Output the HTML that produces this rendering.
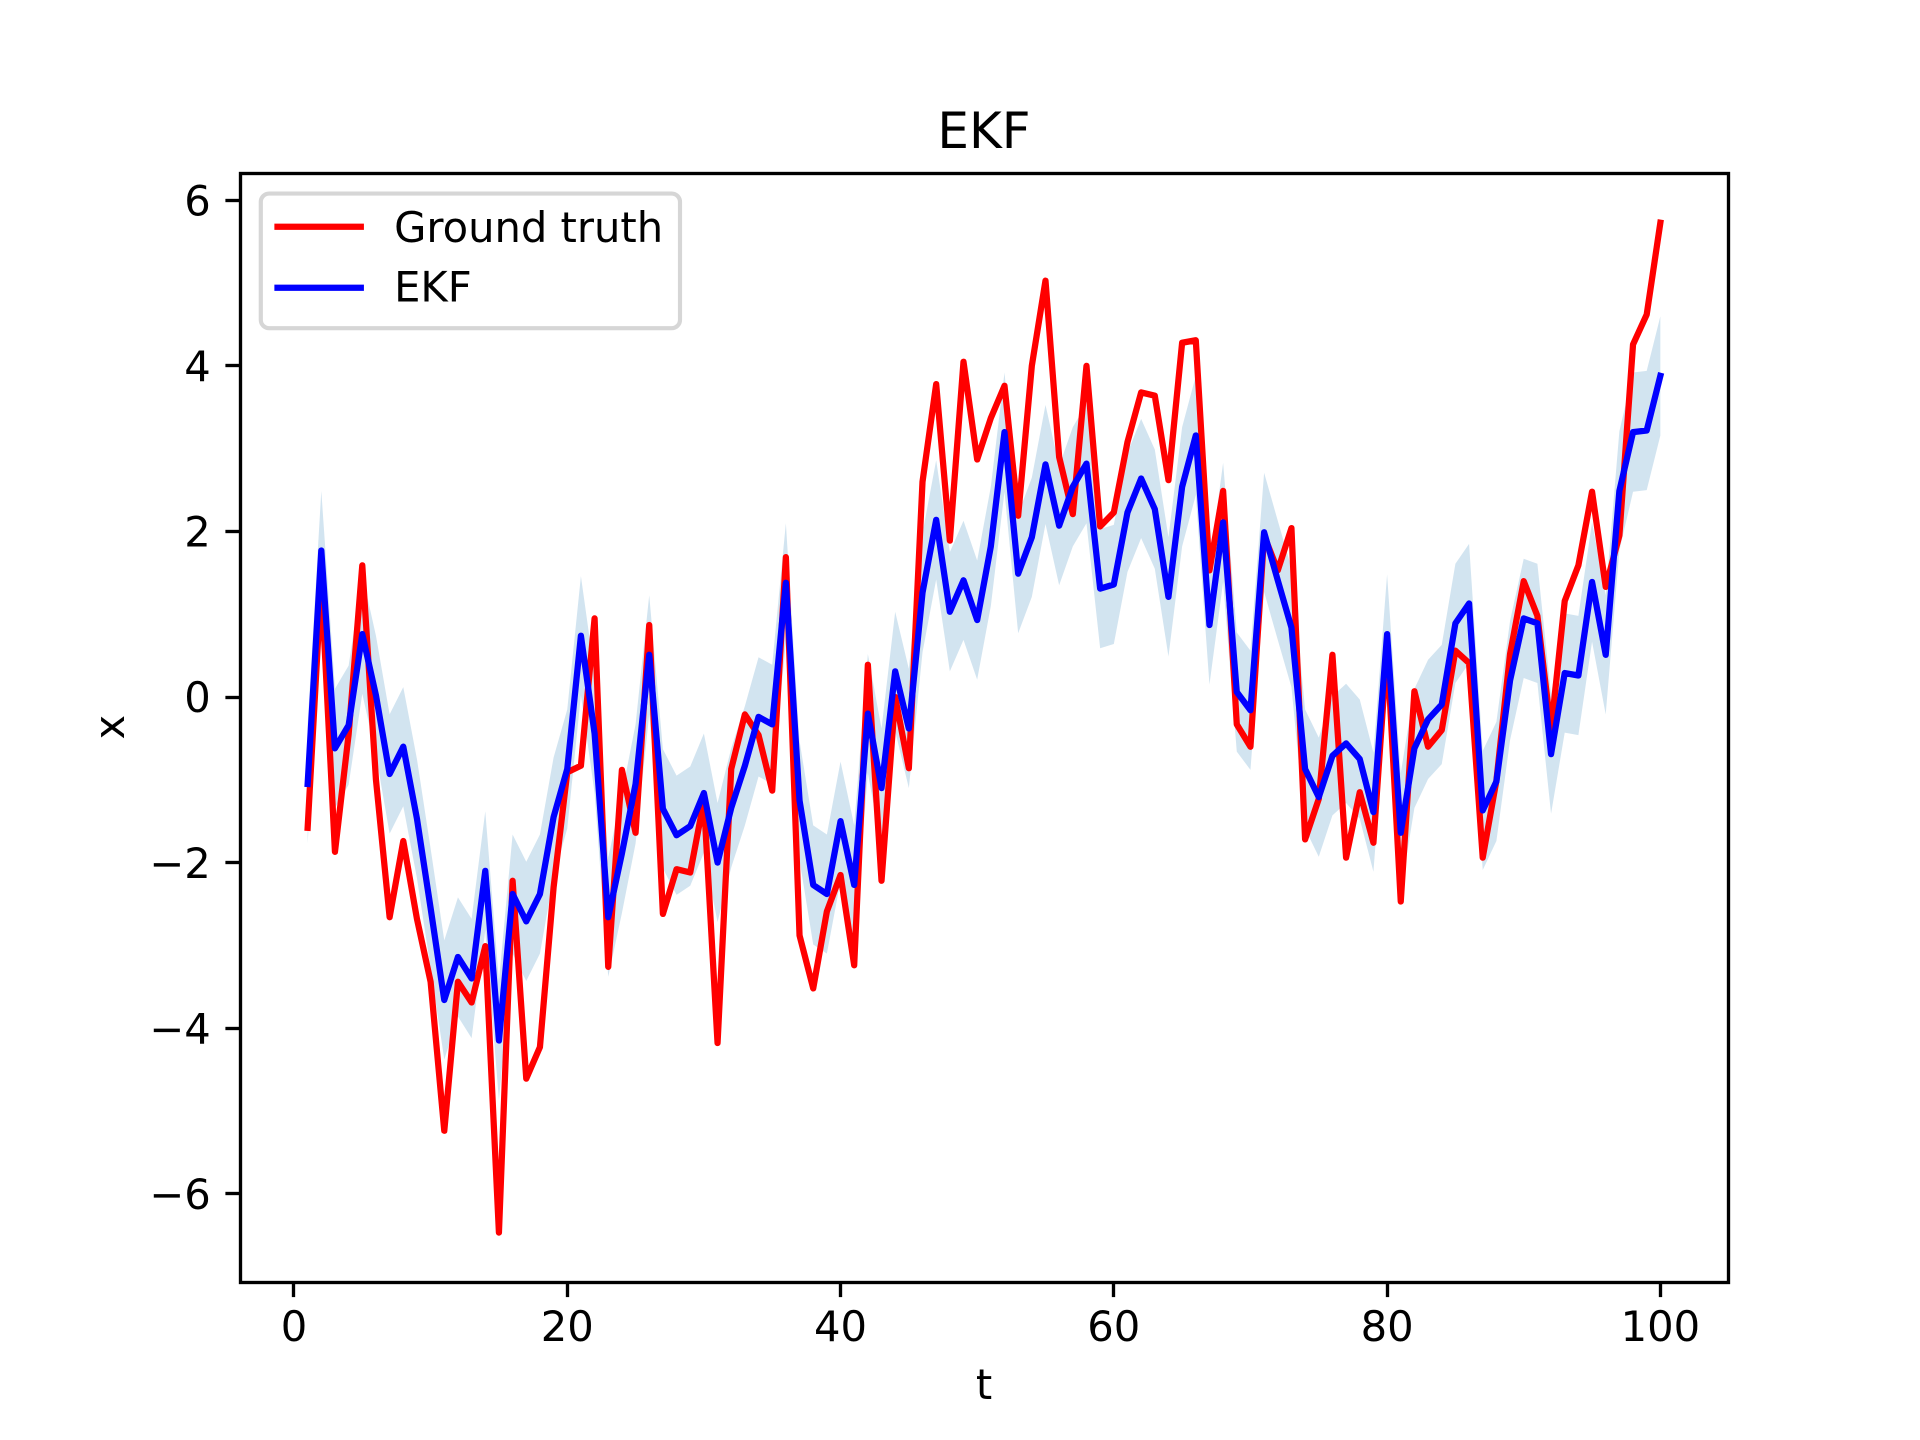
<!DOCTYPE html>
<html lang="en">
<head>
<meta charset="utf-8">
<title>EKF</title>
<style>
  html, body { margin: 0; padding: 0; background: #fff; }
  svg { display: block; font-family: "DejaVu Sans", "Liberation Sans", sans-serif; fill: #000; }
</style>
</head>
<body>
<svg id="chart" xmlns="http://www.w3.org/2000/svg" width="1920" height="1440" viewBox="0 0 1920 1440">
  <rect x="0" y="0" width="1920" height="1440" fill="#ffffff"/>
  <defs>
    <clipPath id="axes-clip"><rect x="240" y="172.8" width="1488" height="1108.8"/></clipPath>
  </defs>
  <g id="plot" clip-path="url(#axes-clip)"></g>
  <g id="axes"></g>
  <text x="984" y="147.8" font-size="50" text-anchor="middle">EKF</text>
  <text x="984" y="1399" font-size="41.67" text-anchor="middle">t</text>
  <text transform="translate(124 727.2) rotate(-90)" font-size="41.67" text-anchor="middle">x</text>
  <g>
    <rect x="260.8" y="193.6" width="419.2" height="134.6" rx="8.3" ry="8.3" fill="#ffffff" stroke="#d6d6d6" stroke-width="4.17"/>
    <line x1="277.5" x2="360.8" y1="226.7" y2="226.7" stroke="#ff0000" stroke-width="6.25" stroke-linecap="square"/>
    <text x="394.1" y="242" font-size="41.67">Ground truth</text>
    <line x1="277.5" x2="360.8" y1="287.7" y2="287.7" stroke="#0000ff" stroke-width="6.25" stroke-linecap="square"/>
    <text x="394.1" y="301.7" font-size="41.67">EKF</text>
  </g>
</svg>
<script>
const groundTruth = [
  -1.58, 1.40, -1.87, -0.45, 1.59, -1.00, -2.66, -1.74, -2.68, -3.44,
  -5.24, -3.44, -3.69, -3.01, -6.47, -2.22, -4.61, -4.23, -2.30, -0.91,
  -0.83, 0.95, -3.26, -0.88, -1.64, 0.87, -2.62, -2.08, -2.12, -1.25,
  -4.18, -0.87, -0.21, -0.46, -1.13, 1.69, -2.88, -3.52, -2.59, -2.15,
  -3.24, 0.39, -2.22, 0.00, -0.86, 2.60, 3.78, 1.89, 4.05, 2.87,
  3.37, 3.76, 2.19, 4.00, 5.03, 2.90, 2.21, 4.00, 2.06, 2.23,
  3.08, 3.68, 3.64, 2.62, 4.28, 4.31, 1.53, 2.49, -0.33, -0.60,
  1.95, 1.53, 2.04, -1.72, -1.23, 0.51, -1.94, -1.15, -1.76, 0.60,
  -2.47, 0.07, -0.60, -0.40, 0.56, 0.41, -1.94, -1.01, 0.52, 1.40,
  0.98, -0.40, 1.16, 1.59, 2.48, 1.33, 1.95, 4.26, 4.62, 5.73
];
const ekfEstimate = [
  -1.05, 1.77, -0.62, -0.34, 0.76, 0.02, -0.93, -0.60, -1.47, -2.55,
  -3.66, -3.14, -3.40, -2.10, -4.15, -2.38, -2.71, -2.38, -1.45, -0.87,
  0.74, -0.44, -2.66, -1.89, -1.05, 0.51, -1.35, -1.67, -1.56, -1.16,
  -2.00, -1.34, -0.83, -0.24, -0.33, 1.38, -1.25, -2.27, -2.38, -1.50,
  -2.27, -0.20, -1.10, 0.31, -0.38, 1.26, 2.14, 1.03, 1.41, 0.93,
  1.82, 3.20, 1.49, 1.93, 2.81, 2.07, 2.54, 2.82, 1.31, 1.36,
  2.23, 2.64, 2.27, 1.21, 2.54, 3.16, 0.87, 2.11, 0.06, -0.16,
  1.99, 1.41, 0.84, -0.87, -1.21, -0.71, -0.56, -0.75, -1.39, 0.76,
  -1.64, -0.62, -0.27, -0.09, 0.89, 1.13, -1.37, -1.02, 0.20, 0.95,
  0.89, -0.69, 0.29, 0.26, 1.39, 0.51, 2.49, 3.20, 3.22, 3.88
];
const bandHalfWidth = [0.72];
const xTicks = [0, 20, 40, 60, 80, 100];
const yTicks = [-6, -4, -2, 0, 2, 4, 6];
const xDomain = [-3.95, 104.95];
const yDomain = [-7.062, 6.333];

const SVG_NS = 'http://www.w3.org/2000/svg';
const AX = { left: 240, right: 1728, top: 172.8, bottom: 1281.6 };
function xScale(v) {
  return AX.left + (v - xDomain[0]) / (xDomain[1] - xDomain[0]) * (AX.right - AX.left);
}
function yScale(v) {
  return AX.bottom - (v - yDomain[0]) / (yDomain[1] - yDomain[0]) * (AX.bottom - AX.top);
}
function snap(p) {
  return Math.floor(p) + 0.5;
}
function make(tag, attrs, parent) {
  const el = document.createElementNS(SVG_NS, tag);
  for (const k in attrs) el.setAttribute(k, attrs[k]);
  parent.appendChild(el);
  return el;
}
function pt(i, v) {
  return xScale(i + 1).toFixed(2) + ',' + yScale(v).toFixed(2);
}

const plot = document.getElementById('plot');
const axes = document.getElementById('axes');

const upperPts = ekfEstimate.map((v, i) => pt(i, v + bandHalfWidth[0]));
const lowerPts = ekfEstimate.map((v, i) => pt(i, v - bandHalfWidth[0])).reverse();
const band = make('polygon', { points: upperPts.concat(lowerPts).join(' '), fill: '#1f77b4', 'fill-opacity': 0.2, stroke: 'none' }, plot);



const truthLine = make('polyline', { points: groundTruth.map((v, i) => pt(i, v)).join(' '), fill: 'none', stroke: '#ff0000', 'stroke-width': 6.25, 'stroke-linejoin': 'round', 'stroke-linecap': 'square' }, plot);



const ekfLine = make('polyline', { points: ekfEstimate.map((v, i) => pt(i, v)).join(' '), fill: 'none', stroke: '#0000ff', 'stroke-width': 6.25, 'stroke-linejoin': 'round', 'stroke-linecap': 'square' }, plot);



const frame = make('rect', { x: 240.5, y: 173.5, width: 1488, height: 1109, fill: 'none', stroke: '#000000', 'stroke-width': 3.33 }, axes);



xTicks.forEach(function (v) {
  const x = xScale(v);
  const sx = snap(x);
  const tick = make('line', { x1: sx, x2: sx, y1: 1282.5, y2: 1297.1, stroke: '#000000', 'stroke-width': 3.33 }, axes);
  
  
  const label = make('text', { x: x, y: 1341.2, 'font-size': 41.67, 'text-anchor': 'middle' }, axes);
  
  
  label.textContent = String(v);
});

yTicks.forEach(function (v) {
  const y = yScale(v);
  const sy = snap(y);
  const tick = make('line', { x1: AX.left - 14.6, x2: 240.5, y1: sy, y2: sy, stroke: '#000000', 'stroke-width': 3.33 }, axes);
  
  
  const label = make('text', { x: AX.left - 29.2, y: y + 15.2, 'font-size': 41.67, 'text-anchor': 'end' }, axes);
  
  
  label.textContent = (v < 0 ? '\u2212' : '') + Math.abs(v);
});
</script>
</body>
</html>
